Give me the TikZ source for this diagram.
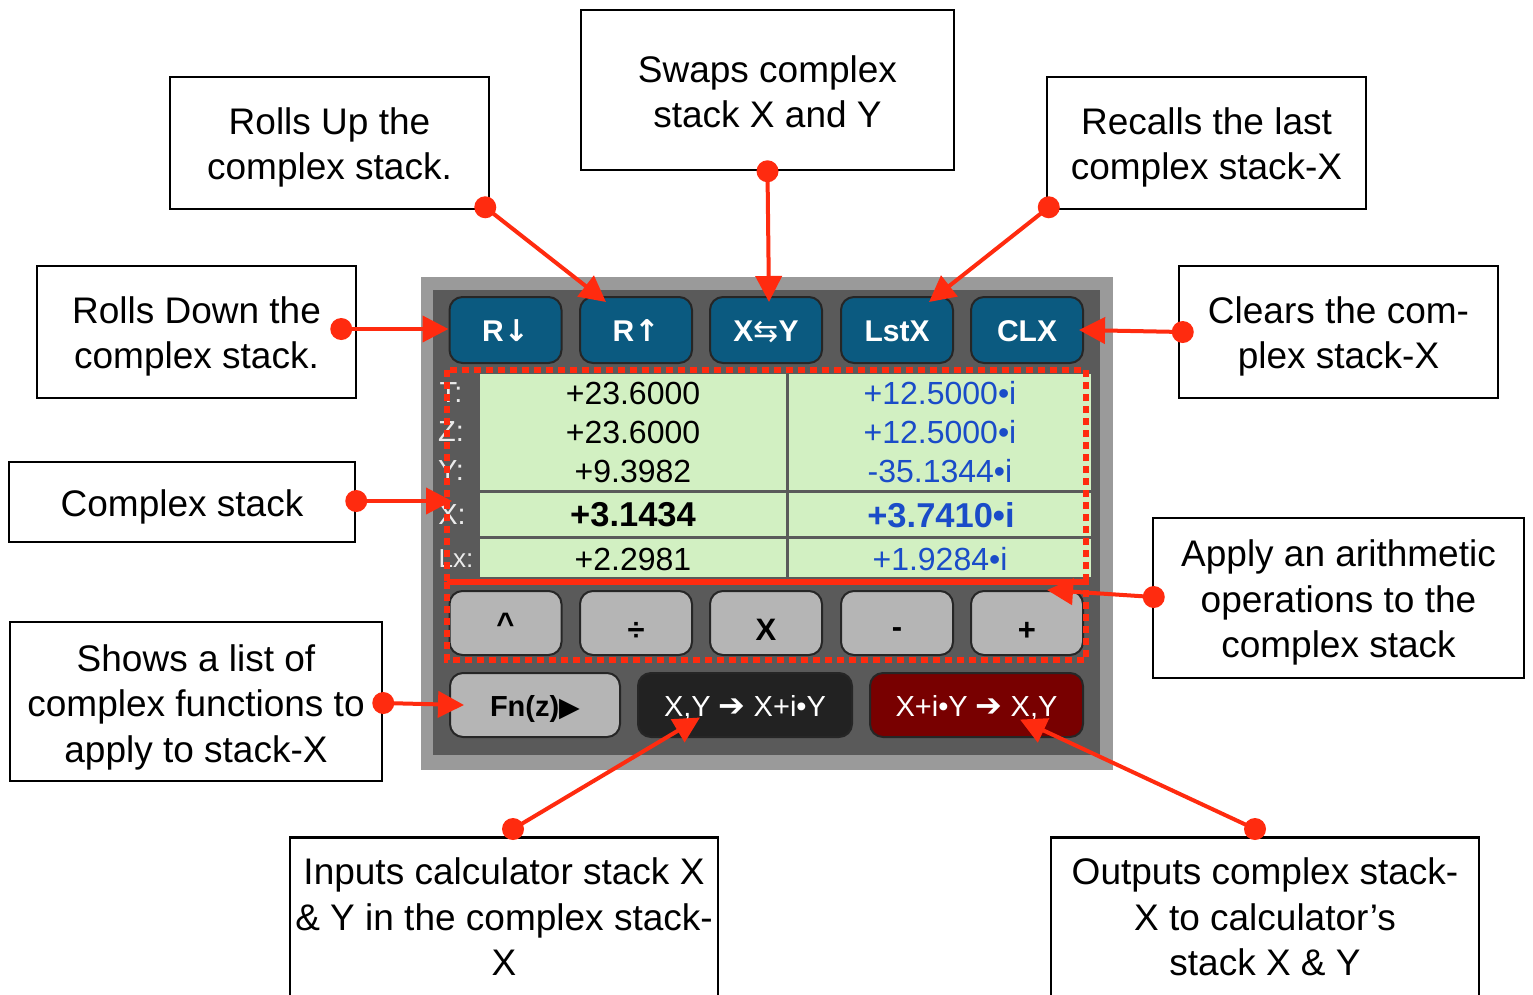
\documentclass[tikz,border=0pt]{standalone}
\usepackage{fontspec}
\setmainfont{Liberation Sans}
\newfontfamily\dejavu{DejaVu Sans}
\usetikzlibrary{arrows.meta,calc}
\definecolor{calred}{HTML}{FF2B0F}
\definecolor{frameout}{HTML}{9A9A9A}
\definecolor{framein}{HTML}{5A5A5A}
\definecolor{keyblue}{HTML}{0B5A80}
\definecolor{keygray}{HTML}{B5B5B5}
\definecolor{keydark}{HTML}{222222}
\definecolor{keyred}{HTML}{780000}
\definecolor{lcd}{HTML}{D2F0C2}
\definecolor{numblue}{HTML}{1A4CC8}
\newcommand\boxtext[2][5pt]{\raisebox{-#1}[\height][\depth]{\begin{tabular}{@{}c@{}}#2\end{tabular}}}
\tikzset{
  box/.style={draw=black, line width=2.5pt, fill=white, align=center, inner sep=0pt,
    font=\fontsize{37}{45.5}\selectfont},
  key/.style={rounded corners=13pt, draw=black!85, line width=2pt, inner sep=0pt},
  bluekey/.style={key, fill=keyblue, text=white, font=\bfseries\fontsize{30}{32}\selectfont,
    minimum width=112pt, minimum height=66pt, text height=22pt, text depth=0pt},
  graykey/.style={key, fill=keygray, text=black, font=\bfseries\fontsize{31}{32}\selectfont,
    minimum width=112pt, minimum height=64pt, text height=34pt, text depth=0pt},
  widekey/.style={key, minimum height=64pt, font=\fontsize{29}{30}\selectfont,
    text height=22pt, text depth=0pt},
  callout/.style={draw=calred, line width=4pt, -{Triangle[length=26pt,width=26pt]}},
  num/.style={font=\fontsize{32}{33}\selectfont, inner sep=0pt},
  bnum/.style={font=\bfseries\fontsize{34.5}{36}\selectfont, inner sep=0pt},
  lbl/.style={text=white!92!black, font=\fontsize{29}{30}\selectfont, inner sep=0pt},
  redbox/.style={draw=calred, line width=5.5pt, dash pattern=on 7pt off 5pt},
}
\begin{document}
\begin{tikzpicture}[x=1pt,y=-1pt]
\useasboundingbox[fill=white] (0,0) rectangle (1533,994);

% ---- callout boxes ----
\node[box, minimum width=319pt, minimum height=132pt] (boxUp) at (329.5,143) {\boxtext{Rolls Up the\\complex stack.}};
\node[box, minimum width=373pt, minimum height=160pt] (boxSwap) at (767.5,90) {\boxtext[6pt]{Swaps complex\\stack X and Y}};
\node[box, minimum width=319pt, minimum height=132pt] (boxLast) at (1206.5,143) {\boxtext{Recalls the last\\complex stack-X}};
\node[box, minimum width=319pt, minimum height=132pt] (boxDown) at (196.5,332) {\boxtext{Rolls Down the\\complex stack.}};
\node[box, minimum width=319pt, minimum height=132pt] (boxClx) at (1338.5,332) {\boxtext{Clears the com-\\plex stack-X}};
\node[box, minimum width=346pt, minimum height=80pt] (boxStack) at (182,502) {\boxtext{Complex stack}};
\node[box, minimum width=371pt, minimum height=160pt] (boxArith) at (1338.5,598) {\boxtext{Apply an arithmetic\\operations to the\\complex stack}};
\node[box, minimum width=372pt, minimum height=159pt] (boxFn) at (196,701.5) {\boxtext[6pt]{Shows a list of\\complex functions to\\apply to stack-X}};
\node[box, minimum width=428pt, minimum height=164pt, anchor=north] (boxIn) at (504,836) {\boxtext[2pt]{Inputs calculator stack X\\\& Y in the complex stack-\\X}};
\node[box, minimum width=428pt, minimum height=164pt, anchor=north] (boxOut) at (1265,836) {\boxtext[2pt]{Outputs complex stack-\\X to calculator’s\\stack X \& Y}};

% ---- calculator frame ----
\fill[frameout] (421,277) rectangle (1113,770);
\fill[framein] (433,290) rectangle (1100,755);

% ---- top keys ----
\node[bluekey] (bDown) at (505.5,330) {R{\dejavu\bfseries ↓}};
\node[bluekey] (bUp) at (636,330) {R{\dejavu\bfseries ↑}};
\node[bluekey] (bSwap) at (766,330) {X{\dejavu\mdseries ⇆}Y};
\node[bluekey] (bLst) at (897,330) {LstX};
\node[bluekey] (bClx) at (1027,330) {CLX};

% ---- display ----
\fill[lcd] (480,374) rectangle (786,490);
\fill[lcd] (789,374) rectangle (1091,490);
\fill[lcd] (480,493) rectangle (786,536);
\fill[lcd] (789,493) rectangle (1091,536);
\fill[lcd] (480,539) rectangle (786,577);
\fill[lcd] (789,539) rectangle (1091,577);

\node[lbl] (lT) at (451,393) {T:};
\node[lbl] (lZ) at (451,432) {Z:};
\node[lbl] (lY) at (451,471) {Y:};
\node[lbl] (lX) at (452,515) {X:};
\node[lbl, font=\fontsize{26}{28}\selectfont] (lL) at (456,559) {Lx:};

\node[num] (r1) at (633,393) {+23.6000};
\node[num] (r2) at (633,432) {+23.6000};
\node[num] (r3) at (633,471) {+9.3982};
\node[bnum] (r4) at (633,515) {+3.1434};
\node[num] (r5) at (633,559) {+2.2981};
\node[num, text=numblue] (i1) at (940,393) {+12.5000•i};
\node[num, text=numblue] (i2) at (940,432) {+12.5000•i};
\node[num, text=numblue] (i3) at (940,471) {-35.1344•i};
\node[bnum, text=numblue] (i4) at (941,515) {+3.7410•i};
\node[num, text=numblue] (i5) at (940,559) {+1.9284•i};

% ---- arithmetic keys ----
\node[graykey] (bPow) at (505.5,623) {\raisebox{6pt}{\textasciicircum}};
\node[graykey] (bDiv) at (636,623) {÷};
\node[graykey] (bMul) at (766,623) {X};
\node[graykey] (bSub) at (897,623) {\raisebox{3pt}{-}};
\node[graykey] (bAdd) at (1027,623) {+};

% ---- bottom keys ----
\node[widekey, fill=keygray, minimum width=170pt, font=\bfseries\fontsize{29}{30}\selectfont] (bFn) at (535,705) {Fn(z){\dejavu\fontsize{27}{30}\selectfont ▶}};
\node[widekey, fill=keydark, text=white, minimum width=214pt] (bIn) at (745,705) {X,Y {\dejavu\bfseries\fontsize{32}{30}\selectfont ➔} X+i•Y};
\node[widekey, fill=keyred, text=white, minimum width=213pt] (bOut) at (976.5,705) {X+i•Y {\dejavu\bfseries\fontsize{32}{30}\selectfont ➔} X,Y};

% ---- dotted highlight ----
\draw[redbox] (447,370) rectangle (1086,582);
\draw[redbox] (447,582) rectangle (1086,660);

% ---- callout connectors ----
\coordinate (dUp) at ($(boxUp.south east)+(-5,-3)$);
\coordinate (dSwap) at (boxSwap.south);
\coordinate (dLast) at ($(boxLast.south west)+(3,-3)$);
\coordinate (dDown) at ($(boxDown.east)+(-16,-3)$);
\coordinate (dClx) at ($(boxClx.west)+(5,0)$);
\coordinate (dStack) at ($(boxStack.east)+(0,-1)$);
\coordinate (dArith) at ($(boxArith.west)+(2,-1)$);
\coordinate (dFn) at ($(boxFn.east)+(0,1.5)$);
\coordinate (dIn) at ($(boxIn.north)+(9,-7)$);
\coordinate (dOut) at ($(boxOut.north)+(-10,-7)$);

\draw[callout] (dUp) -- ($(bUp.north west)+(27,6)$);
\draw[callout] (dSwap) -- ($(bSwap.north)+(3,6)$);
\draw[callout] (dLast) -- ($(bLst.north)+(32,6)$);
\draw[callout] (dDown) -- (bDown.west |- dDown);
\draw[callout] (dClx) -- ($(bClx.east)+(-5,0)$ |- dClx);
\draw[callout] (dStack) -- (lX.north |- dStack);
\draw[callout] (dArith) -- ($(bAdd.north east)+(-37,0)$ |- dArith);
\draw[callout] (dFn) -- ($(bFn.west)+(15,0)$ |- dFn);
\draw[callout] (dIn) -- ($(bIn.center)+(-45,12.5)$);
\draw[callout] (dOut) -- ($(bOut.center)+(43.5,14.5)$);

\foreach \d in {dUp,dSwap,dLast,dDown,dClx,dStack,dArith,dFn,dIn,dOut}
  \fill[calred] (\d) circle[radius=11pt];
\end{tikzpicture}
\end{document}
